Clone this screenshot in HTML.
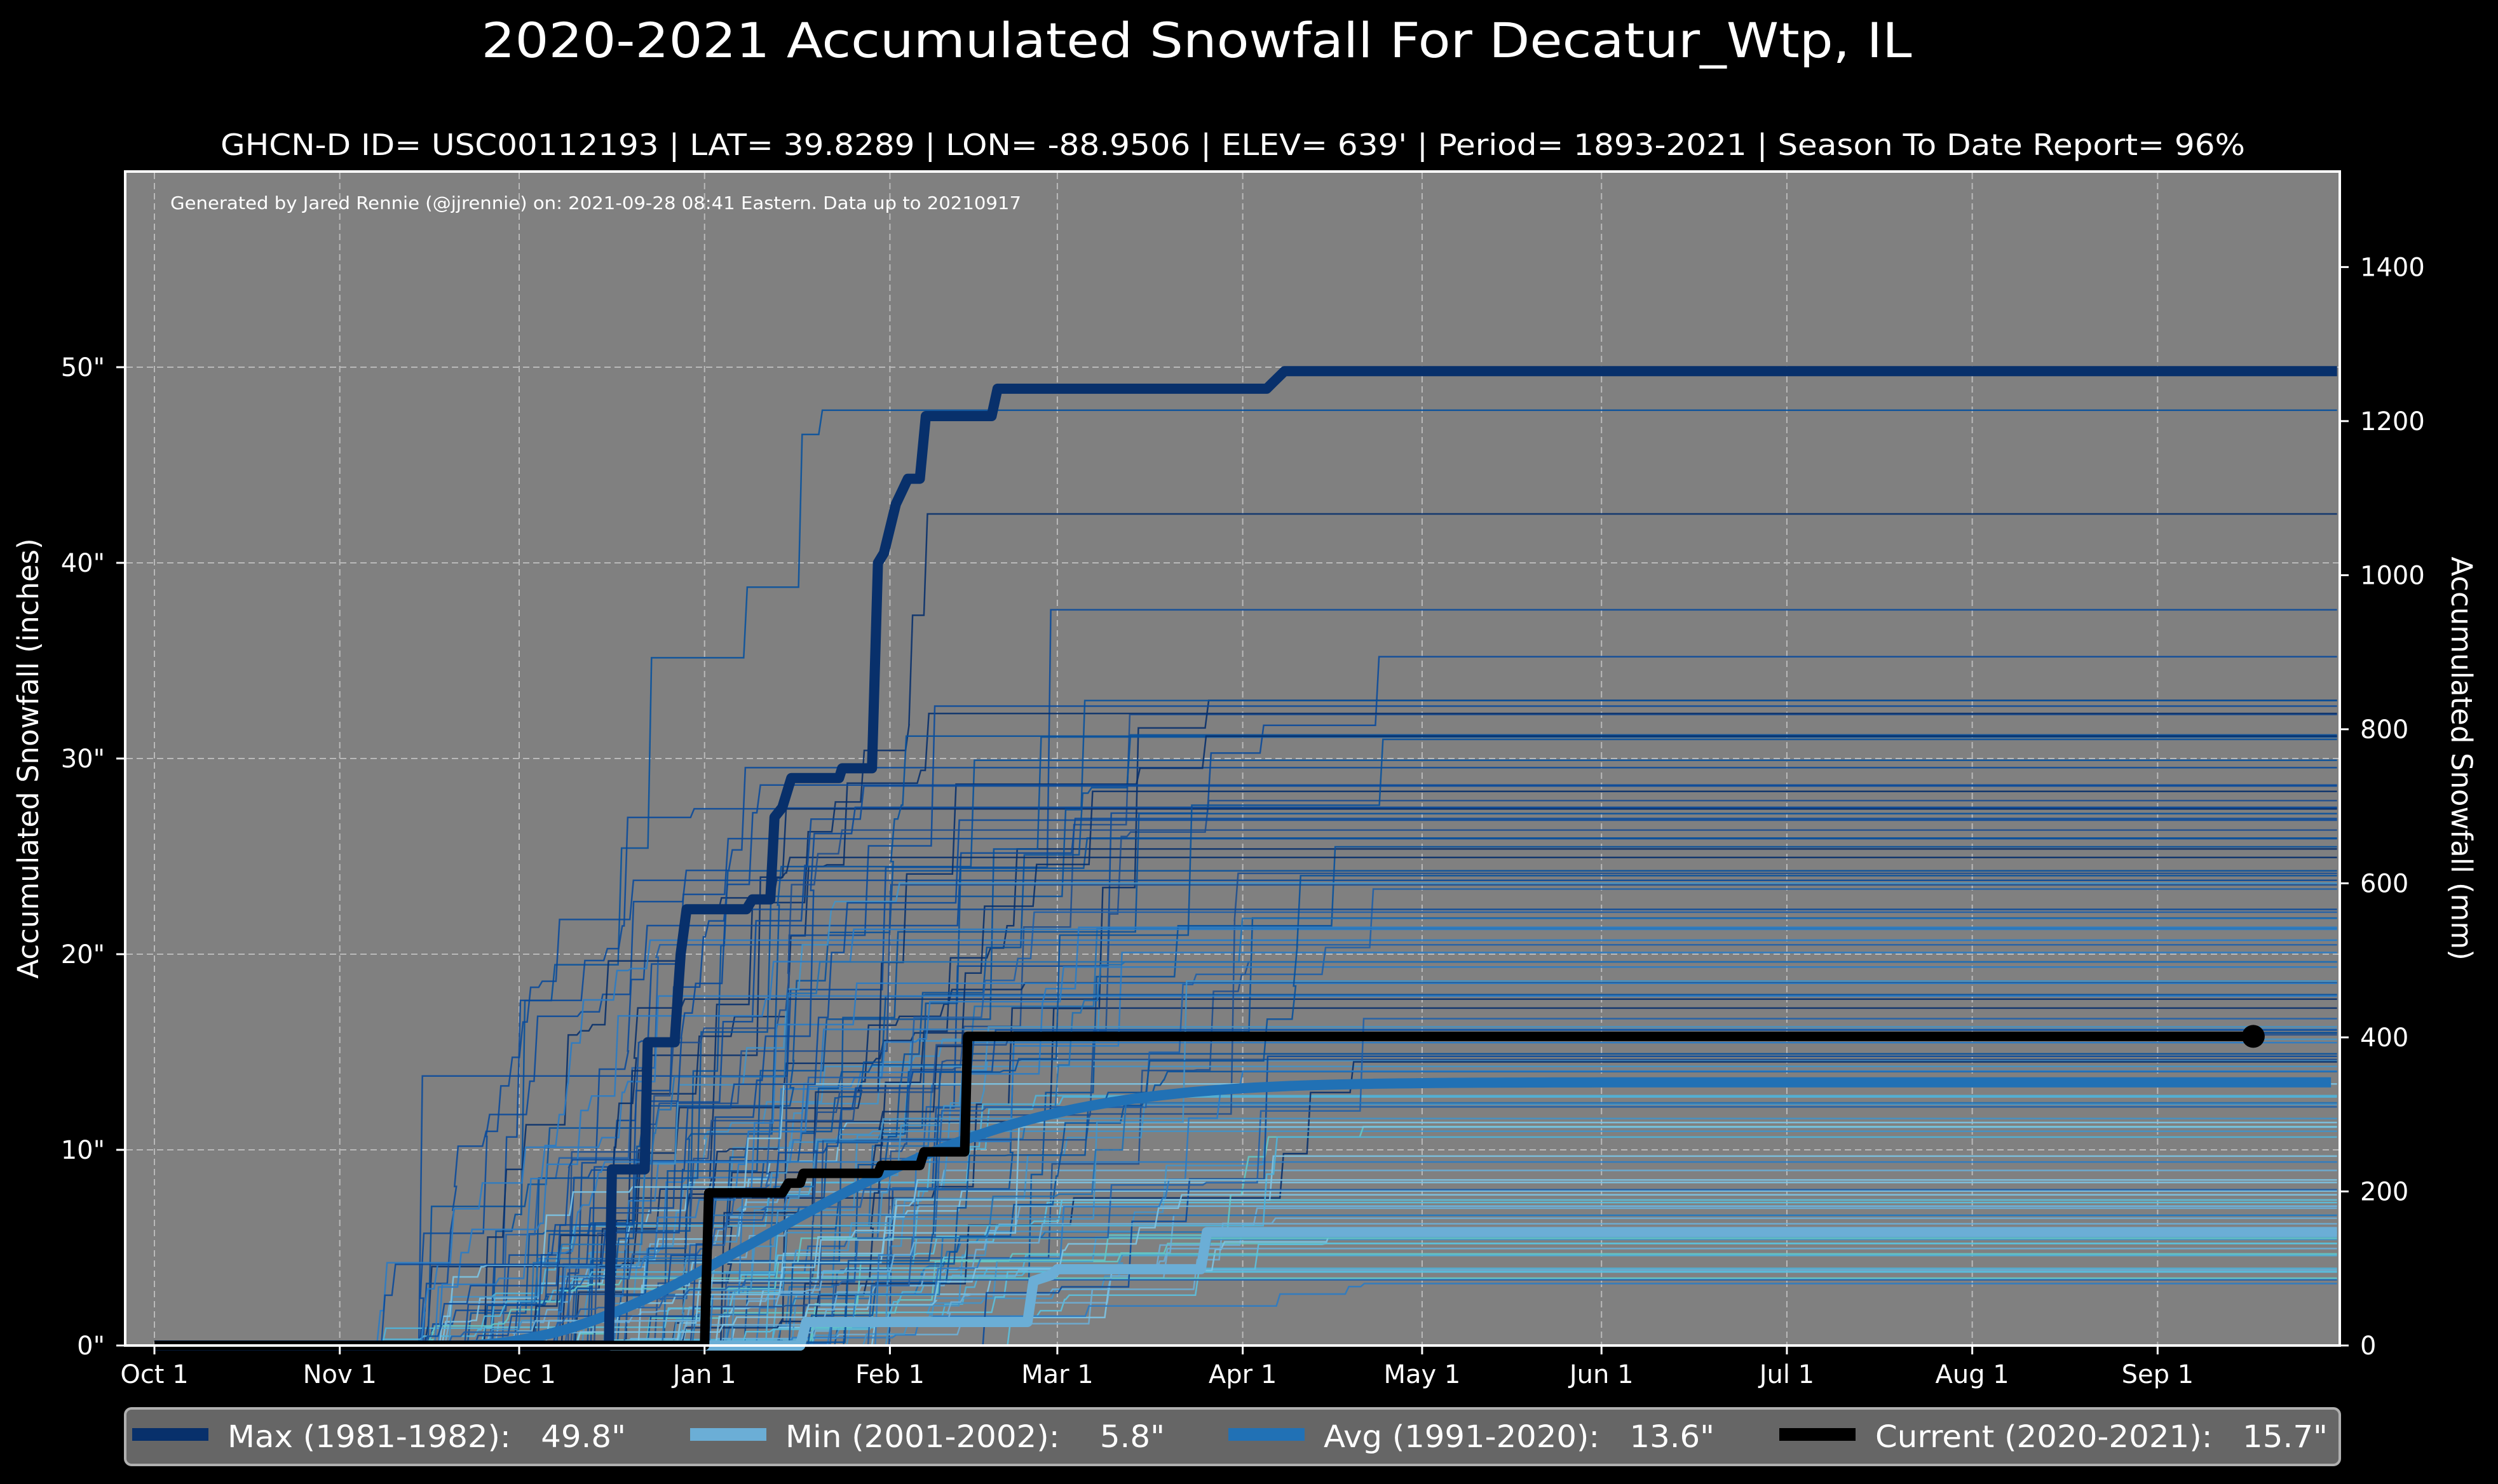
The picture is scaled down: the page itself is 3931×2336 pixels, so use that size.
<!DOCTYPE html>
<html><head><meta charset="utf-8"><style>
html,body{margin:0;padding:0;background:#000;width:3931px;height:2336px;overflow:hidden}
svg text{font-family:"DejaVu Sans","Liberation Sans",sans-serif;fill:#fff;white-space:pre}
</style></head><body>
<svg id="s" width="3931" height="2336" xmlns="http://www.w3.org/2000/svg">
<rect width="3931" height="2336" fill="#000"/>
<text x="1883" y="90" font-size="76" text-anchor="middle" textLength="2251" lengthAdjust="spacingAndGlyphs">2020-2021 Accumulated Snowfall For Decatur_Wtp, IL</text>
<text x="1940" y="244" font-size="46" text-anchor="middle" textLength="3186" lengthAdjust="spacingAndGlyphs">GHCN-D ID= USC00112193 | LAT= 39.8289 | LON= -88.9506 | ELEV= 639' | Period= 1893-2021 | Season To Date Report= 96%</text>
<rect x="197" y="270" width="3485" height="1848" fill="#808080"/>
<g id="grid" stroke="#c8c8c8" stroke-width="2" stroke-dasharray="10,6" opacity="0.8"></g>
<g id="thin" fill="none" stroke-width="2.5"></g>
<g id="main" fill="none" stroke-linejoin="round"></g>
<text x="268" y="329" font-size="28" textLength="1339" lengthAdjust="spacingAndGlyphs">Generated by Jared Rennie (@jjrennie) on: 2021-09-28 08:41 Eastern. Data up to 20210917</text>
<rect x="197" y="270" width="3485" height="1848" fill="none" stroke="#fff" stroke-width="4"/>
<g id="ax"></g>
<text transform="translate(60,1194) rotate(-90)" font-size="45" text-anchor="middle">Accumulated Snowfall (inches)</text>
<text transform="translate(3858,1194) rotate(90)" font-size="45" text-anchor="middle">Accumulated Snowfall (mm)</text>
<rect x="197" y="2217" width="3485" height="89" rx="10" fill="#666" stroke="#b0b0b0" stroke-width="4"/>
<rect x="208" y="2248" width="120" height="20" fill="#08306b"/>
<text x="358" y="2278" font-size="48" textLength="627" lengthAdjust="spacingAndGlyphs">Max (1981-1982):   49.8"</text>
<rect x="1086" y="2248" width="120" height="20" fill="#6baed6"/>
<text x="1236" y="2278" font-size="48" textLength="597" lengthAdjust="spacingAndGlyphs">Min (2001-2002):    5.8"</text>
<rect x="1933" y="2248" width="120" height="20" fill="#2171b5"/>
<text x="2083" y="2278" font-size="48" textLength="615" lengthAdjust="spacingAndGlyphs">Avg (1991-2020):   13.6"</text>
<rect x="2800" y="2248" width="120" height="20" fill="#000"/>
<text x="2951" y="2278" font-size="48" textLength="712" lengthAdjust="spacingAndGlyphs">Current (2020-2021):   15.7"</text>
</svg>
<script>
var NS="http://www.w3.org/2000/svg";
function X(d){return 243+d*9.41;}
function Y(v){return 2118-v*30.8;}
function el(p,t,a,txt){var e=document.createElementNS(NS,t);for(var k in a)e.setAttribute(k,a[k]);if(txt!==undefined)e.textContent=txt;document.getElementById(p).appendChild(e);return e;}
var months=[["Oct 1",0],["Nov 1",31],["Dec 1",61],["Jan 1",92],["Feb 1",123],["Mar 1",151],["Apr 1",182],["May 1",212],["Jun 1",242],["Jul 1",273],["Aug 1",304],["Sep 1",335]];
months.forEach(function(m){var x=X(m[1]);el("grid","line",{x1:x,y1:272,x2:x,y2:2116});
 el("ax","line",{x1:x,y1:2118,x2:x,y2:2132,stroke:"#fff","stroke-width":3});
 el("ax","text",{x:x,y:2177,"font-size":40,"text-anchor":"middle"},m[0]);});
for(var v=0;v<=50;v+=10){var y=Y(v);if(v>0)el("grid","line",{x1:199,y1:y,x2:3680,y2:y});
 el("ax","line",{x1:183,y1:y,x2:197,y2:y,stroke:"#fff","stroke-width":3});
 el("ax","text",{x:165,y:y+14,"font-size":40,"text-anchor":"end"},v+'"');}
for(var mm=0;mm<=1400;mm+=200){var y=Y(mm/25.4);
 el("ax","line",{x1:3682,y1:y,x2:3696,y2:y,stroke:"#fff","stroke-width":3});
 el("ax","text",{x:3714,y:y+14,"font-size":40},String(mm));}
var seed=98765;function r(){seed=(seed*16807)%2147483647;return (seed-1)/2147483646;}
var dark=["#08306b","#08519c","#1f4f8f","#0b4a9a"],mid=["#2171b5","#2a7bc4","#1f5fa8","#4292c6"],light=["#6baed6","#5bc0de","#62c6c6","#7cc4e4","#4fb3d9"];
for(var i=0;i<125;i++){
 var fin=3+Math.pow(r(),1.05)*30; if(i==0)fin=47.8; if(i==1)fin=42.5; if(i==2)fin=37.6; if(i==3)fin=35.2;
 var start=30+r()*80, end=start+40+r()*90; if(end>205)end=205;
 var n=4+Math.floor(r()*10),ds=[],vs=[];
 for(var k=0;k<n;k++){ds.push(start+r()*(end-start));vs.push(r());}
 ds.sort(function(a,b){return a-b});var tot=vs.reduce(function(a,b){return a+b},0);
 var cur=0,p="M"+X(0)+","+Y(0)+" L"+X(ds[0]).toFixed(1)+","+Y(0);
 for(var k=0;k<n;k++){cur+=vs[k]/tot*fin;p+=" L"+X(ds[k]+0.6).toFixed(1)+","+Y(cur).toFixed(1);
  if(k<n-1)p+=" L"+X(ds[k+1]).toFixed(1)+","+Y(cur).toFixed(1);}
 p+=" L"+X(365)+","+Y(fin).toFixed(1);
 var pal=fin>24?dark:(fin>14?(r()<0.5?mid:dark):(r()<0.7?light:mid));
 el("thin","path",{d:p,stroke:pal[Math.floor(r()*pal.length)],opacity:0.9});}
function step(arr){var p="M"+X(arr[0][0])+","+Y(arr[0][1]);for(var i=1;i<arr.length;i++)p+=" L"+X(arr[i][0]).toFixed(1)+","+Y(arr[i][1]).toFixed(1);return p;}
var ap=[];for(var d=50;d<=364;d+=2){var t=d-50;var v=13.45*(1-Math.exp(-Math.pow(t/70,2.1)));ap.push([d,v]);}
ap.unshift([0,0]);
el("main","path",{d:step(ap),stroke:"#2171b5","stroke-width":16});
el("main","path",{d:step([[0,0],[108,0],[109,1.2],[146,1.2],[147,3.3],[150,3.6],[151,3.9],[175,3.9],[176,5.8],[365,5.8]]),stroke:"#6baed6","stroke-width":16});
el("main","path",{d:step([[0,0],[76,0],[76.5,9],[82,9],[82.5,15.5],[87,15.5],[88,20],[89,22.3],[99,22.3],[100,22.8],[103,22.8],[103.7,27],[105,27.5],[106.5,29],[114.5,29],[115,29.5],[120,29.5],[121,40],[122,40.5],[124,43],[126,44.3],[128,44.3],[129,47.5],[140,47.5],[141,48.9],[186,48.9],[187,49.2],[189,49.8],[365,49.8]]),stroke:"#08306b","stroke-width":16});
el("main","path",{d:step([[0,0],[92,0],[92.7,7.8],[105,7.8],[106,8.3],[108,8.3],[108.5,8.8],[121,8.8],[121.5,9.2],[128,9.2],[128.7,9.9],[135.5,9.9],[136,15.8],[351,15.8]]),stroke:"#000","stroke-width":15});
el("main","circle",{cx:X(351),cy:Y(15.8),r:18,fill:"#000"});
</script>
</body></html>
